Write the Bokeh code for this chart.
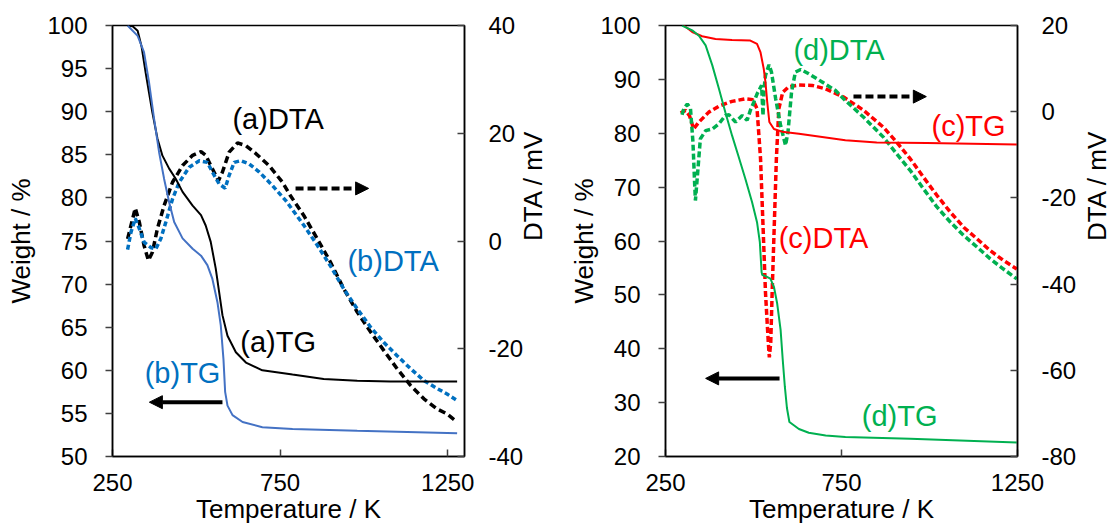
import math
from bokeh.plotting import figure
from bokeh.models import Range1d, LinearAxis, FixedTicker, Label, Arrow, NormalHead, CustomJSTickFormatter
from bokeh.layouts import row
from bokeh.embed import file_html
from bokeh.resources import INLINE

# ---------------- Left panel data ----------------
tg_a_T = [295, 310, 325, 337, 349, 359, 369, 384, 399, 419, 439, 459, 489, 514, 528, 543, 558, 568, 578, 593, 618, 648, 697, 787, 880, 980, 1079, 1278]
tg_a_W = [100, 99.9, 99.4, 97.5, 94.5, 92.2, 89.9, 86.9, 84.9, 83.4, 82.2, 80.7, 79.1, 78.0, 76.8, 74.9, 71.8, 69.1, 66.4, 64.0, 62.1, 60.9, 60.0, 59.5, 59.0, 58.8, 58.7, 58.7]

tg_b_T = [295, 325, 344, 359, 374, 389, 404, 419, 434, 459, 489, 514, 533, 548, 563, 573, 581, 586, 593, 608, 638, 697, 787, 980, 1278]
tg_b_W = [100, 98.8, 96.9, 93.4, 89.2, 85.3, 82.2, 79.5, 77.2, 75.3, 74.1, 73.3, 72.2, 70.6, 67.9, 65.2, 61.3, 57.5, 55.9, 54.8, 54.0, 53.4, 53.2, 53.0, 52.7]

dta_a_T = [295, 310, 318, 330, 344, 357, 369, 384, 404, 429, 459, 489, 514, 528, 548, 566, 578, 598, 623, 648, 678, 717, 757, 781, 821, 861, 900, 940, 980, 1020, 1059, 1099, 1139, 1179, 1219, 1248, 1278]
dta_a_D = [0.4, 4.1, 6.1, 3.5, -0.8, -3.6, -2.1, 2.3, 6.6, 10.9, 14.0, 15.9, 16.6, 15.9, 13.4, 11.2, 12.8, 16.5, 18.2, 17.7, 16.2, 14.0, 10.9, 8.4, 4.7, 0.4, -3.9, -8.9, -13.2, -16.9, -20.3, -23.7, -26.8, -29.3, -31.2, -32.1, -33.6]

dta_b_T = [295, 305, 318, 330, 344, 364, 379, 394, 409, 429, 449, 479, 509, 533, 548, 568, 586, 598, 613, 633, 658, 688, 727, 767, 781, 821, 861, 900, 940, 980, 1020, 1059, 1099, 1139, 1179, 1219, 1248, 1278]
dta_b_D = [-1.6, 1.6, 4.2, 2.3, -0.2, -1.2, -1.5, 0.4, 3.5, 7.8, 10.9, 13.7, 14.9, 14.6, 12.8, 10.6, 9.8, 12.2, 14.6, 14.9, 14.3, 12.8, 10.3, 7.5, 6.3, 2.9, -0.8, -4.6, -8.9, -12.6, -16.0, -18.8, -21.3, -23.7, -25.9, -27.4, -28.4, -29.6]

# ---------------- Right panel data ----------------
tg_c_T = [302, 326, 354, 392, 439, 491, 510, 520, 529, 534, 539, 545, 558, 581, 629, 695, 761, 850, 992, 1248]
tg_c_W = [100, 98.8, 98.0, 97.5, 97.3, 97.2, 96.6, 95.0, 92.0, 89.5, 85.8, 82.1, 80.8, 80.3, 79.9, 79.3, 78.7, 78.3, 78.2, 77.9]

tg_d_T = [297, 326, 345, 364, 383, 402, 420, 439, 458, 477, 496, 510, 518, 523, 525, 534, 548, 558, 567, 577, 583, 589, 595, 602, 629, 657, 705, 761, 945, 1248]
tg_d_W = [100, 99.1, 98.1, 96.3, 92.6, 88.2, 83.9, 79.6, 75.6, 71.5, 67.2, 63.5, 59.8, 54.2, 53.7, 53.5, 53.0, 51.5, 48.5, 43.5, 38.0, 33.0, 29.0, 26.4, 25.1, 24.4, 23.9, 23.6, 23.3, 22.6]

dta_c_T = [293, 307, 318, 330, 345, 373, 402, 439, 477, 498, 510, 520, 527, 534, 542, 545, 549, 553, 559, 565, 572, 583, 600, 629, 667, 705, 756, 813, 869, 907, 945, 983, 1021, 1059, 1097, 1135, 1172, 1210, 1248]
dta_c_D = [-0.3, 0.3, -0.9, -4.0, -2.4, -0.1, 1.3, 2.4, 3.0, 2.8, 0.7, -10.9, -26.4, -41.9, -53.5, -57.0, -53.5, -41.9, -26.4, -10.9, 0.7, 4.5, 5.8, 6.2, 6.1, 5.3, 3.4, 0.3, -3.6, -7.1, -10.9, -15.2, -19.4, -23.3, -26.8, -29.5, -32.2, -34.5, -36.5]

dta_d_T = [297, 302, 312, 321, 328, 333, 335, 340, 349, 364, 383, 402, 420, 430, 449, 468, 482, 491, 501, 510, 523, 527, 530, 534, 544, 551, 563, 577, 591, 598, 608, 619, 634, 657, 695, 733, 761, 813, 869, 907, 945, 983, 1021, 1059, 1097, 1135, 1172, 1210, 1248]
dta_d_D = [-0.7, 0.7, 1.8, 0.7, -7.1, -17.1, -20.6, -15.6, -6.3, -4.4, -4.0, -2.8, -0.9, -0.7, -2.4, -0.9, -2.0, 0.3, 2.2, 4.1, 6.1, -0.9, 5.3, 8.4, 10.9, 9.2, 3.0, -3.2, -7.8, -4.7, 4.5, 9.2, 9.8, 8.8, 6.9, 4.9, 2.6, -1.3, -5.9, -9.8, -13.6, -17.9, -22.1, -25.6, -28.7, -31.4, -34.1, -36.5, -38.8]

x_ticks_T = [250, 750, 1250]
left_w_ticks = [50, 55, 60, 65, 70, 75, 80, 85, 90, 95, 100]
left_d_ticks = [-40, -20, 0, 20, 40]
right_w_ticks = [20, 30, 40, 50, 60, 70, 80, 90, 100]
right_d_ticks = [-80, -60, -40, -20, 0, 20]

FONT = "Liberation Sans"
BLACK = "#000000"
BLUE_TG = "#4472C4"
BLUE = "#0070C0"
RED = "#FF0000"
GREEN = "#00B050"
TICK = "#404040"

FRAME_W = 352
FRAME_H = 431


def style_axis(a, tick_in, tick_out, standoff, title_standoff=0):
    a.axis_line_color = "black"
    a.axis_line_width = 1.5
    a.major_tick_line_color = TICK
    a.major_tick_line_width = 1.5
    a.major_tick_in = tick_in
    a.major_tick_out = tick_out
    a.minor_tick_line_color = None
    a.major_label_text_font = FONT
    a.major_label_text_font_size = "24px"
    a.major_label_text_color = "black"
    a.major_label_standoff = standoff
    a.axis_label_text_font = FONT
    a.axis_label_text_font_size = "26px"
    a.axis_label_text_font_style = "normal"
    a.axis_label_text_color = "black"
    a.axis_label_standoff = title_standoff


def make_fig(xr, wr, dr, wt, dt, bl, br, left_title_so, right_title_so):
    p = figure(frame_width=FRAME_W, frame_height=FRAME_H,
               min_border_left=bl, min_border_right=br,
               min_border_top=25, min_border_bottom=70,
               x_range=Range1d(*xr), y_range=Range1d(*wr),
               output_backend="svg", toolbar_location=None)
    p.extra_y_ranges = {"dta": Range1d(*dr)}
    p.xgrid.visible = False
    p.ygrid.visible = False
    p.outline_line_color = "black"
    p.outline_line_width = 1.5
    p.background_fill_color = "white"
    p.border_fill_color = "white"

    xa = p.xaxis[0]
    xa.ticker = FixedTicker(ticks=x_ticks_T)
    xa.axis_label = "Temperature / K"
    style_axis(xa, 7, 0, 17, 0)

    ya = p.yaxis[0]
    ya.ticker = FixedTicker(ticks=wt)
    ya.axis_label = "Weight / %"
    style_axis(ya, 0, 7, 18, left_title_so)

    ra = LinearAxis(y_range_name="dta", ticker=FixedTicker(ticks=dt),
                    formatter=CustomJSTickFormatter(code="return String(tick);"),
                    axis_label="DTA / mV")
    style_axis(ra, 7, 0, 24, right_title_so)
    if "axis_label_orientation" in LinearAxis.properties():
        ra.axis_label_orientation = math.pi / 2
    p.add_layout(ra, "right")
    return p


def add_label(p, x, y, text, color):
    p.add_layout(Label(x=x, y=y, text=text, text_align="center", text_baseline="middle",
                       text_font=FONT, text_font_size="29px", text_color=color))


def add_arrow(p, x0, x1, y, dash="solid"):
    p.add_layout(Arrow(end=NormalHead(size=13, fill_color="black", line_color="black"),
                       x_start=x0, y_start=y, x_end=x1, y_end=y,
                       line_width=4, line_color="black", line_dash=dash))


# ---------------- Left figure ----------------
p1 = make_fig((250, 1300), (50, 100), (-40, 40), left_w_ticks, left_d_ticks, 112, 101, 8, 7)
p1.line(dta_a_T, dta_a_D, y_range_name="dta", line_color=BLACK, line_width=3.5, line_dash="7 4")
p1.line(dta_b_T, dta_b_D, y_range_name="dta", line_color=BLUE, line_width=3.5, line_dash="5 3")
p1.line(tg_a_T, tg_a_W, line_color=BLACK, line_width=2)
p1.line(tg_b_T, tg_b_W, line_color=BLUE_TG, line_width=2)

add_label(p1, 744, 89.1, "(a)DTA", BLACK)
add_label(p1, 744, 63.3, "(a)TG", BLACK)
add_label(p1, 459, 59.7, "(b)TG", BLUE)
add_label(p1, 1087, 72.7, "(b)DTA", BLUE)
add_arrow(p1, 578, 360, 56.3)
add_arrow(p1, 796, 1014, 81.1, "8 4")

# ---------------- Right figure ----------------
p2 = make_fig((250, 1250), (20, 100), (-80, 20), right_w_ticks, right_d_ticks, 97, 112, -2, 18)
p2.line(dta_c_T, dta_c_D, y_range_name="dta", line_color=RED, line_width=3.5, line_dash="6 3")
p2.line(dta_d_T, dta_d_D, y_range_name="dta", line_color=GREEN, line_width=3.5, line_dash="6 3")
p2.line(tg_c_T, tg_c_W, line_color=RED, line_width=2)
p2.line(tg_d_T, tg_d_W, line_color=GREEN, line_width=2)

add_label(p2, 743, 95.4, "(d)DTA", GREEN)
add_label(p2, 1111, 81.4, "(c)TG", RED)
add_label(p2, 699, 60.5, "(c)DTA", RED)
add_label(p2, 915, 27.6, "(d)TG", GREEN)
add_arrow(p2, 574, 364, 34.5)
add_arrow(p2, 784, 991, 86.8, "8 4")

layout = row(p1, p2)
open("out.html", "w").write(file_html(layout, INLINE))
